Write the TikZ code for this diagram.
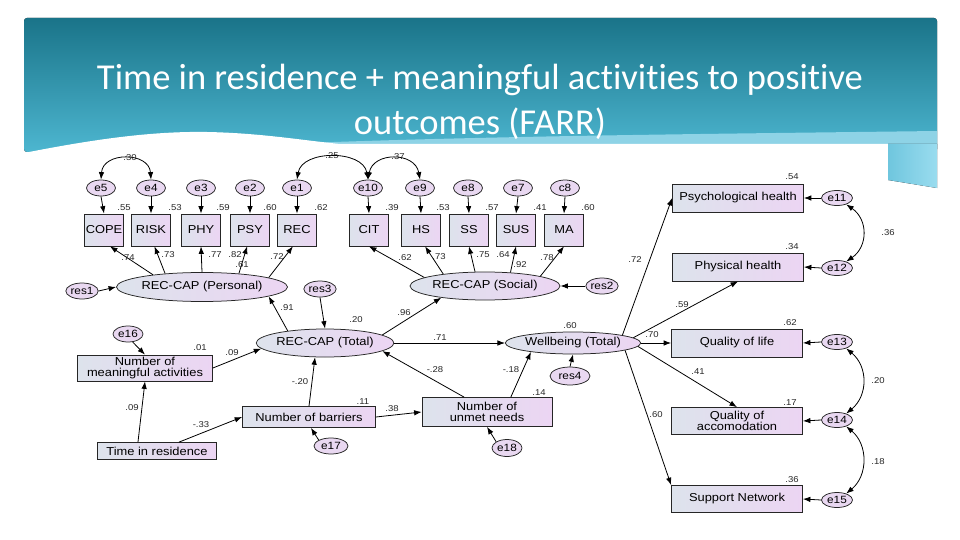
\documentclass[tikz,border=0pt]{standalone}
\usepackage{fontspec}
\setmainfont{Liberation Sans}
\newfontfamily\diag[FakeStretch=1.12]{Liberation Sans}
\newfontfamily\titlefont[Ligatures=NoCommon]{Carlito}
\usetikzlibrary{arrows.meta,shapes.geometric}
\definecolor{boxL}{HTML}{DDE3EC}
\definecolor{boxR}{HTML}{ECD5F3}
\definecolor{errF}{HTML}{E9D8F1}
\definecolor{hdTop}{HTML}{1A7489}
\definecolor{hdBot}{HTML}{4DB6D0}
\definecolor{tabA}{HTML}{6FC6DE}
\definecolor{tabB}{HTML}{9ADCEF}
\definecolor{band}{HTML}{8ED3E6}
\begin{document}
\begin{tikzpicture}[x=1pt,y=-1pt,
  obs/.style={draw=black!85, line width=0.75pt, rectangle, left color=boxL, right color=boxR,
    inner sep=0pt, align=center, font=\diag\fontsize{11.5}{11}\selectfont},
  lat/.style={draw=black!85, line width=0.75pt, ellipse, left color=boxL, right color=boxR,
    inner sep=0pt, font=\diag\fontsize{11.5}{12}\selectfont},
  err/.style={draw=black!85, line width=0.75pt, ellipse, fill=errF, minimum width=30pt,
    minimum height=16pt, inner sep=0pt, font=\diag\fontsize{10.5}{11}\selectfont},
  arr/.style={-{Latex[length=7.5pt,width=5.5pt]}, line width=0.8pt},
  dbl/.style={{Latex[length=7.5pt,width=5.5pt]}-{Latex[length=7.5pt,width=5.5pt]}, line width=0.8pt},
  num/.style={inner sep=0pt, text=black!85, font=\diag\fontsize{8.5}{9}\selectfont},
  smallbox/.style={obs, minimum width=39pt, minimum height=32pt},
  bigbox/.style={obs, minimum width=131pt, minimum height=28pt}]
\useasboundingbox (0,0) rectangle (960,540);
% ---------- header ----------
\fill[white] (0,0) rectangle (960,540);
\fill[top color=hdTop, bottom color=hdBot, rounded corners=3pt] (24,18) rectangle (937,152);
\fill[band] (280,144) .. controls (480,136) and (700,134) .. (937,131) -- (937,145) -- (280,145) -- cycle;
\fill[white] (24,153) .. controls (90,140) and (150,131) .. (207,132)
  .. controls (260,133) and (300,140) .. (340,144) -- (888,144) -- (888,540) -- (24,540) -- cycle;
\fill[left color=tabA, right color=tabB] (888,144) -- (937,144) -- (937,188) -- (888,180) -- cycle;
\node[text=white, font=\titlefont\fontsize{36.5}{45}\selectfont, align=center, inner sep=0pt]
  (title) at (480,102) {Time in residence + meaningful activities to positive\\outcomes (FARR)};
% ---------- personal indicators ----------
\foreach \n/\t/\x in {cope/COPE/104, risk/RISK/151, phy/PHY/201, psy/PSY/250, rec/REC/297,
                      cit/CIT/369, hs/HS/421, ss/SS/469, sus/SUS/516, ma/MA/564}
  \node[smallbox] (\n) at (\x,230) {\t};
\foreach \n/\t/\x in {e5/e5/101, e4/e4/151, e3/e3/201, e2/e2/250, e1/e1/297,
                      e10/e10/368, e9/e9/420, e8/e8/468, e7/e7/518, c8/c8/565}
  \node[err, minimum width=29pt] (\n) at (\x,188) {\t};
\foreach \a/\b in {e5/cope, e4/risk, e3/phy, e2/psy, e1/rec, e10/cit, e9/hs, e8/ss, e7/sus, c8/ma}
  \draw[arr] (\a.south) -- (\b.north);
% covariances top
\draw[dbl] (e5.north) .. controls +(2,-28) and +(-2,-28) .. (e4.north);
\draw[dbl] (e1.north) .. controls +(5,-30) and +(-5,-30) .. (e10.north);
\draw[dbl] (e10.north) .. controls +(5,-28) and +(-5,-28) .. (e9.north);
\node[num] (c30) at (130,158) {.30};
\node[num] (c25) at (332,156) {.25};
\node[num] (c37) at (398,157) {.37};
% R2 top
\foreach \n/\t/\x in {r1/.55/124, r2/.53/175, r3/.59/223, r4/.60/270, r5/.62/321,
                      r6/.39/392, r7/.53/443, r8/.57/492, r9/.41/540, r10/.60/588}
  \node[num] (\n) at (\x,208) {\t};
% ---------- latent ----------
\node[lat, minimum width=142pt, minimum height=29pt] (pers) at (202,287) {REC-CAP (Personal)};
\node[lat, minimum width=150pt, minimum height=28pt] (soc) at (485,286) {REC-CAP (Social)};
\node[lat, minimum width=124pt, minimum height=28pt] (tot) at (325,343) {REC-CAP (Total)};
\node[lat, minimum width=134pt, minimum height=22pt] (well) at (573,343) {Wellbeing (Total)};
\node[err, minimum width=31pt] (res1) at (82,291) {res1};
\node[err, minimum width=32pt] (res2) at (602,286) {res2};
\node[err, minimum width=31pt] (res3) at (320,289) {res3};
\node[err, minimum width=40pt, minimum height=18pt] (res4) at (570,376) {res4};
\draw[arr] (res1.east) -- (pers.west);
\draw[arr] (res2.west) -- (soc.east);
\draw[arr] (res3.south) -- (tot.north);
\draw[arr] (res4.north) -- (well.south);
% personal loadings
\draw[arr] (pers.166) -- (cope.-70);
\draw[arr] (pers.160) -- (risk.-78);
\draw[arr] (pers.north) -- (phy.south);
\draw[arr] (pers.20) -- (psy.-100);
\draw[arr] (pers.8) -- (rec.-104);
\foreach \n/\t/\x/\y in {l1/.74/128/258, l2/.73/168/255, l3/.77/215/255, l4/.82/235/255,
                         l5/.61/242/265, l6/.72/277/257}
  \node[num] (\n) at (\x,\y) {\t};
% social loadings
\draw[arr] (soc.172) -- (cit.-90);
\draw[arr] (soc.164) -- (hs.-76);
\draw[arr] (soc.125) -- (ss.south);
\draw[arr] (soc.28) -- (sus.south);
\draw[arr] (soc.10) -- (ma.south);
\foreach \n/\t/\x/\y in {s1/.62/405/258, s2/.73/439/257, s3/.75/483/255, s4/.64/503/255,
                         s5/.92/520/265, s6/.78/547/258}
  \node[num] (\n) at (\x,\y) {\t};
% ---------- structural ----------
\node[obs, minimum width=135pt, minimum height=26pt] (mean) at (145,368) {Number of\\meaningful activities};
\node[obs, minimum width=119pt, minimum height=17pt] (time) at (157,451) {Time in residence};
\node[obs, minimum width=133pt, minimum height=21pt] (barr) at (309,417) {Number of barriers};
\node[obs, minimum width=130pt, minimum height=29pt] (unmet) at (487,412) {Number of\\unmet needs};
\node[err] (e16) at (128,334) {e16};
\node[err, minimum width=34pt] (e17) at (331,446) {e17};
\node[err, minimum height=17pt] (e18) at (507,448) {e18};
\draw[arr] (e16.-60) -- (mean.north);
\draw[arr] (e17.north west) -- (barr.-80);
\draw[arr] (e18.north west) -- (unmet.south);
\draw[arr] (tot.162) -- (pers.-8);
\draw[arr] (tot.8) -- (soc.195);
\draw[arr] (tot.east) -- (well.west);
\draw[arr] (mean.east) -- (tot.185);
\draw[arr] (barr.north) -- (tot.235);
\draw[arr] (unmet.147) -- (tot.-8);
\draw[arr] (unmet.32) -- (well.192);
\draw[arr] (barr.east) -- (unmet.west);
\draw[arr] (time.155) -- (mean.south);
\draw[arr] (time.22) -- (barr.west);
\foreach \n/\t/\x/\y in {m1/.91/287/308, m2/.20/356/320, m3/.96/404/313, m4/.71/440/338,
                         m5/.60/570/326, m6/-.28/435/370, m7/-.18/511/370, m8/.14/539/393,
                         m9/.11/363/402, m10/.38/392/409, m11/-.20/300/382, m12/.01/200/348,
                         m13/.09/232/353, m14/.09/132/408, m15/-.33/201/425}
  \node[num] (\n) at (\x,\y) {\t};
% ---------- outcomes ----------
\node[bigbox] (psych) at (738,198) {Psychological health};
\node[bigbox] (phys) at (738,267) {Physical health};
\node[bigbox] (qol) at (737,343) {Quality of life};
\node[bigbox, minimum height=27pt] (acc) at (737,421) {Quality of\\accomodation};
\node[bigbox, minimum height=27pt] (sup) at (737,499) {Support Network};
\foreach \n/\t/\y in {e11/e11/198, e12/e12/268, e13/e13/342, e14/e14/420, e15/e15/500}
  \node[err, minimum width=31pt, minimum height=15pt] (\n) at (837,\y) {\t};
\foreach \a/\b in {e11/psych, e12/phys, e13/qol, e14/acc, e15/sup}
  \draw[arr] (\a.west) -- (\b.east);
\draw[dbl] (e11.-35) .. controls +(22,15) and +(22,-15) .. (e12.35);
\draw[dbl] (e13.-35) .. controls +(22,18) and +(22,-18) .. (e14.35);
\draw[dbl] (e14.-35) .. controls +(22,18) and +(22,-18) .. (e15.35);
\draw[arr] (well.9) -- (psych.west);
\draw[arr] (well.5) -- (phys.south);
\draw[arr] (well.east) -- (qol.west);
\draw[arr] (well.-3) -- (acc.north);
\draw[arr] (well.-8) -- (sup.north west);
\foreach \n/\t/\x/\y in {o1/.54/792/177, o2/.72/635/260, o3/.36/888/233, o4/.34/792/247,
                         o5/.59/682/305, o6/.62/790/323, o7/.70/652/335, o8/.41/698/372,
                         o9/.17/790/403, o10/.20/878/381, o11/.60/656/415, o12/.36/792/480,
                         o13/.18/878/462}
  \node[num] (\n) at (\x,\y) {\t};
\end{tikzpicture}
\end{document}
